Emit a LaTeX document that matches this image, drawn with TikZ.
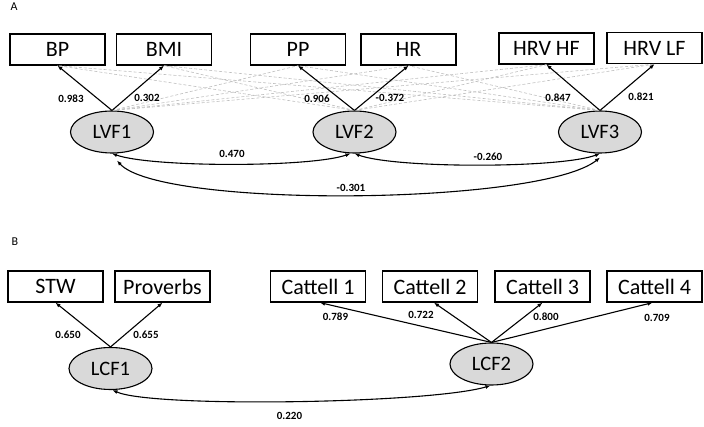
\documentclass[tikz,border=0pt]{standalone}
\usepackage{fontspec}
\setmainfont{Carlito}
\usetikzlibrary{shapes.geometric,arrows.meta,calc}
\tikzset{
  obsbox/.style={draw=black,line width=1.3pt,minimum width=95pt,minimum height=31pt,inner sep=0pt,font=\fontsize{22}{26}\selectfont},
  latent/.style={ellipse,draw=black,line width=1.1pt,fill=black!15,minimum width=83pt,minimum height=42pt,inner sep=0pt,font=\fontsize{20.5}{24}\selectfont},
  load/.style={-{Latex[length=5pt,width=4pt]},line width=1.1pt},
  cov/.style={{Latex[length=5pt,width=4pt]}-{Latex[length=5pt,width=4pt]},line width=1.1pt},
  cross/.style={draw=black!25,dashed,dash pattern=on 3pt off 2pt,line width=0.6pt},
  est/.style={font=\bfseries\fontsize{11}{13}\selectfont,inner sep=1pt},
  panel/.style={font=\fontsize{12}{14}\selectfont,inner sep=0pt}
}
\begin{document}
\begin{tikzpicture}[x=1pt,y=-1pt]
\useasboundingbox (0,0) rectangle (704,427);
\node[panel] (pa) at (14,7) {A};
\node[panel] (pb) at (15,242) {B};
% panel A
\node[obsbox] (bp) at (57.5,49.5) {BP};
\node[obsbox] (bmi) at (164,49.5) {BMI};
\node[obsbox] (pp) at (298,49.5) {PP};
\node[obsbox] (hr) at (408.5,49.5) {HR};
\node[obsbox] (hf) at (546.5,48.5) {HRV HF};
\node[obsbox] (lf) at (654.5,48) {HRV LF};
\node[latent] (v1) at (112,132) {LVF1};
\node[latent] (v2) at (354.5,132) {LVF2};
\node[latent] (v3) at (600,132) {LVF3};
% cross loadings (background)
\foreach \f/\b in {v1/pp,v1/hr,v1/hf,v1/lf,v2/bp,v2/bmi,v2/hf,v2/lf,v3/bp,v3/bmi,v3/pp,v3/hr}
  \draw[cross] (\f.north) -- (\b.south);
\draw[load] (v1.north) -- (bp.south);
\draw[load] (v1.north) -- (bmi.south);
\draw[load] (v2.north) -- (pp.south);
\draw[load] (v2.north) -- (hr.south);
\draw[load] (v3.north) -- (hf.south);
\draw[load] (v3.north) -- (lf.south);
\node[est] (e1) at (71,99) {0.983};
\node[est] (e2) at (147,98) {0.302};
\node[est] (e3) at (317,99) {0.906};
\node[est] (e4) at (390,98) {-0.372};
\node[est] (e5) at (558,98) {0.847};
\node[est] (e6) at (641,97) {0.821};
\draw[cov] (v1.south) .. controls +(40,14) and +(-40,14) .. ($(v2.south)+(-4,0)$);
\draw[cov] (v2.south) .. controls +(40,15) and +(-40,15) .. (v3.south);
\coordinate (c1) at ($(v1.south)+(5,7)$);
\coordinate (c3) at ($(v3.south)+(0,4)$);
\draw[cov] (c1) .. controls +(43,48) and +(-60,48) .. (c3);
\node[est] (k1) at (232,154) {0.470};
\node[est] (k2) at (488,157) {-0.260};
\node[est] (k3) at (351,188) {-0.301};
% panel B
\node[obsbox] (stw) at (55.5,286.5) {STW};
\node[obsbox] (prov) at (162.5,286.5) {Proverbs};
\node[obsbox] (ca1) at (318,286.5) {Cattell 1};
\node[obsbox] (ca2) at (430,286.5) {Cattell 2};
\node[obsbox] (ca3) at (542.5,286.5) {Cattell 3};
\node[obsbox] (ca4) at (654.5,286.5) {Cattell 4};
\node[latent] (c1f) at (110.5,368.5) {LCF1};
\node[latent] (c2f) at (491.5,364) {LCF2};
\draw[load] (c1f.north) -- (stw.south);
\draw[load] (c1f.north) -- (prov.south);
\draw[load] (c2f.north) -- ($(ca1.south)+(2,0)$);
\draw[load] (c2f.north) -- ($(ca2.south)+(4,0)$);
\draw[load] (c2f.north) -- (ca3.south);
\draw[load] (c2f.north) -- ($(ca4.south)+(-2,0)$);
\node[est] (l1) at (68,335) {0.650};
\node[est] (l2) at (146,335) {0.655};
\node[est] (l3) at (335.5,317) {0.789};
\node[est] (l4) at (421,315) {0.722};
\node[est] (l5) at (546,317) {0.800};
\node[est] (l6) at (657,318) {0.709};
\draw[cov] ($(c1f.south)+(2,0)$) .. controls +(40,18) and +(-60,18) .. ($(c2f.south)+(-1,0)$);
\node[est] (l7) at (289.5,416) {0.220};
\end{tikzpicture}
\end{document}
